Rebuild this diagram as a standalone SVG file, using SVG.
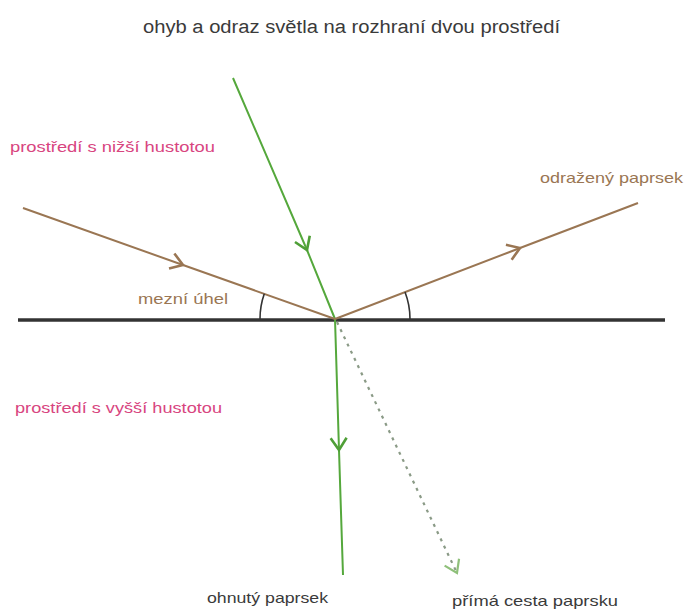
<svg xmlns="http://www.w3.org/2000/svg" width="688" height="609" viewBox="0 0 688 609">
<style>
text{font-family:"Liberation Sans",Arial,sans-serif;font-size:15px}
.title{fill:#3a3a3a;font-size:18px}
.pink{fill:#d8457f}
.brown{fill:#9a7653}
.dark{fill:#3a3a3a}
.green{stroke:#55a83c;stroke-width:2;fill:none}
.br{stroke:#9a7653;stroke-width:2;fill:none}
.dash{stroke:#8a9a86;stroke-width:2.2;fill:none;stroke-dasharray:3 5}
.arc{stroke:#333;stroke-width:1.6;fill:none}
</style>
<defs>
<marker id="ag" viewBox="-16 -12 18 24" markerWidth="18" markerHeight="24" markerUnits="userSpaceOnUse" refX="0" refY="0" orient="auto">
<path d="M-12,-8 L0,0 L-12,8" fill="none" stroke="#4f9f37" stroke-width="2.6"/>
</marker>
<marker id="ab" viewBox="-16 -12 18 24" markerWidth="18" markerHeight="24" markerUnits="userSpaceOnUse" refX="0" refY="0" orient="auto">
<path d="M-12,-8 L0,0 L-12,8" fill="none" stroke="#9a7653" stroke-width="2.6"/>
</marker>
<marker id="ad" viewBox="-16 -12 18 24" markerWidth="18" markerHeight="24" markerUnits="userSpaceOnUse" refX="0" refY="0" orient="auto">
<path d="M-12,-8 L0,0 L-12,8" fill="none" stroke="#8fc07a" stroke-width="2.2"/>
</marker>
</defs>
<g id="title"><text class="title" x="143" y="33" textLength="417" lengthAdjust="spacingAndGlyphs">ohyb a odraz světla na rozhraní dvou prostředí</text></g>
<g id="interface"><line x1="18" y1="320" x2="665" y2="320" stroke="#333" stroke-width="3.5"/></g>
<g id="connectors">
<path id="incident-green" class="green" d="M233,78 L307,250 L335,319" marker-mid="url(#ag)"/>
<path id="refracted" class="green" d="M335,319 L339,450 L343,575" marker-mid="url(#ag)"/>
<path id="straight" class="dash" d="M337,322 L457,573" marker-end="url(#ad)"/>
<path id="incident-brown" class="br" d="M23,208 L183,265 L335,319" marker-mid="url(#ab)"/>
<path id="reflected" class="br" d="M335,319 L520,248 L638,203" marker-mid="url(#ab)"/>
</g>
<g id="angles">
<path class="arc" d="M264.3,293.8 A75,75 0 0 0 260,319"/>
<path class="arc" d="M405,292 A75,75 0 0 1 410,319"/>
</g>
<g id="label-lower-density"><text class="pink" x="10" y="152" textLength="205" lengthAdjust="spacingAndGlyphs">prostředí s nižší hustotou</text></g>
<g id="label-reflected"><text class="brown" x="540" y="183" textLength="143" lengthAdjust="spacingAndGlyphs">odražený paprsek</text></g>
<g id="label-angle"><text class="brown" x="138" y="304" textLength="90" lengthAdjust="spacingAndGlyphs">mezní úhel</text></g>
<g id="label-higher-density"><text class="pink" x="15" y="413" textLength="207" lengthAdjust="spacingAndGlyphs">prostředí s vyšší hustotou</text></g>
<g id="label-bent"><text class="dark" x="207" y="603" textLength="121" lengthAdjust="spacingAndGlyphs">ohnutý paprsek</text></g>
<g id="label-straight"><text class="dark" x="452" y="606" textLength="166" lengthAdjust="spacingAndGlyphs">přímá cesta paprsku</text></g>
</svg>
